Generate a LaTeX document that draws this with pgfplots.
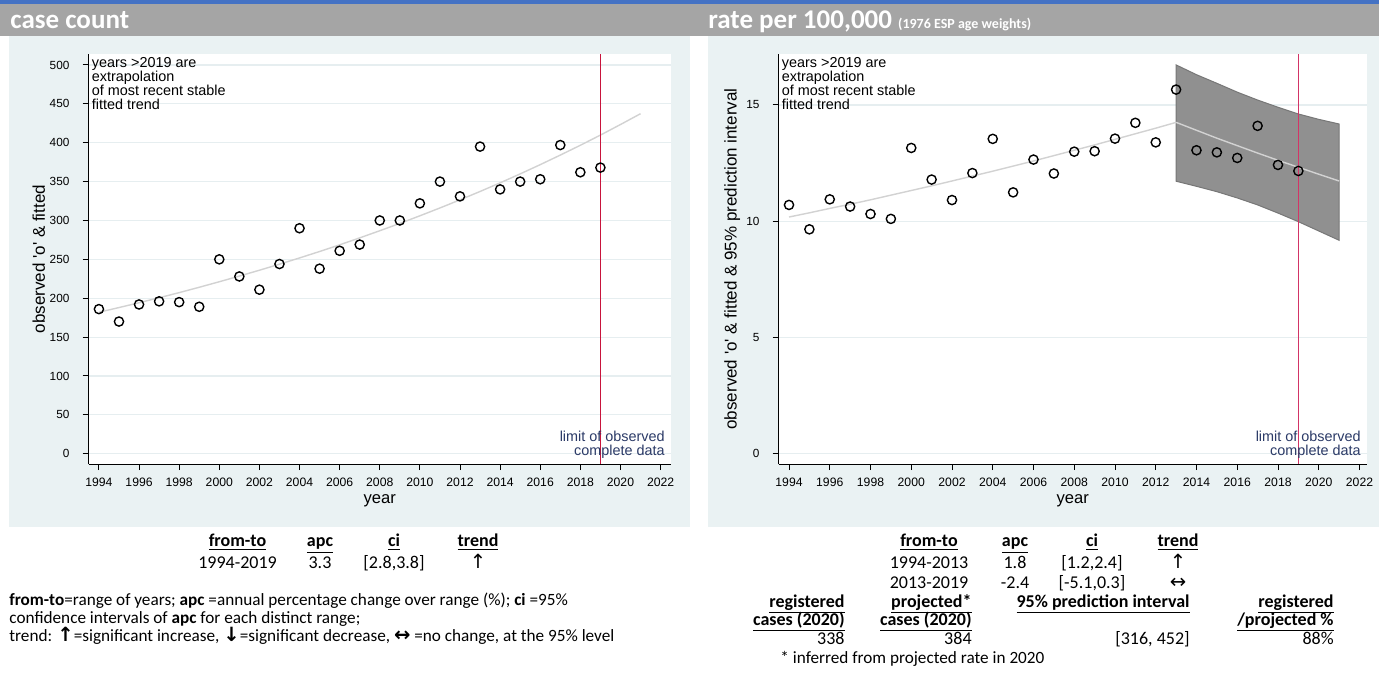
\documentclass[border=0pt]{standalone}
\usepackage{pgfplots}
\pgfplotsset{compat=1.18}
\usepackage{fontspec}
\setmainfont{Carlito}
\newfontfamily\arial{Liberation Sans}
\newfontfamily\dejavu{DejaVu Sans}

\definecolor{bandblue}{HTML}{4472C4}
\definecolor{hdrgrey}{HTML}{A5A5A5}
\definecolor{panelbg}{HTML}{EAF2F3}
\definecolor{gridc}{HTML}{E6EEF0}
\definecolor{fitc}{HTML}{D2D2D2}
\definecolor{pibg}{HTML}{909090}
\definecolor{piedge}{HTML}{777777}
\definecolor{limred}{HTML}{C8143C}
\definecolor{limpink}{HTML}{D33466}
\definecolor{limtxt}{HTML}{2B3A67}

\newcommand{\tabfont}{\fontsize{9}{10}\selectfont}
\newcommand{\notefont}{\fontsize{8.6}{10}\selectfont}
\newcommand{\arr}[1]{{\dejavu\fontsize{9.8}{10}\selectfont #1}}
\newcommand{\barr}[1]{{\dejavu\bfseries\fontsize{9.8}{10}\selectfont #1}}

\tikzset{note/.style={inner sep=0, font=\arial\fontsize{7.2}{7}\selectfont}}

\pgfplotsset{
  panel/.style={
    scale only axis, anchor=south west,
    height=205pt,
    axis lines*=left,
    axis line style={black, line width=0.5pt},
    axis background/.style={fill=white},
    tick align=outside,
    major tick length=3pt,
    tick style={black, line width=0.5pt},
    ymajorgrids,
    major grid style={gridc, line width=0.6pt},
    xtick={1994,1996,...,2022},
    xticklabels={1994,1996,1998,2000,2002,2004,2006,2008,2010,2012,2014,2016,2018,2020,2022},
    xticklabel style={font=\arial\fontsize{6.1}{7}\selectfont, yshift=-0.5pt},
    yticklabel style={font=\arial\fontsize{5.9}{7}\selectfont, xshift=-3pt},
    clip mode=individual,
  },
  obs/.style={only marks, mark=o, mark size=2.3pt, mark options={black, line width=0.7pt}},
  fit/.style={no marks, fitc, line width=0.7pt},
}

\begin{document}
\begin{tikzpicture}
\useasboundingbox (0,0) rectangle (689.5pt,343pt);

% page furniture, drawn in pixel units (y downwards)
\begin{scope}[x=0.5pt, y=-0.5pt, shift={(0,343pt)}]
  \fill[white] (0,0) rectangle (1379,686);
  \fill[bandblue] (0,0) rectangle (1379,4);
  \fill[hdrgrey] (0,4) rectangle (1379,36);
  \fill[panelbg] (9,36) rectangle (690,527);
  \fill[panelbg] (708,36) rectangle (1379,527);

  \node[anchor=base west, inner sep=0, text=white, font=\bfseries\fontsize{13.5}{13}\selectfont] at (10,29) {case count};
  \node[anchor=base west, inner sep=0, text=white, font=\bfseries\fontsize{13.5}{13}\selectfont] at (708,29)
    {rate per 100,000 {\fontsize{7}{7}\selectfont(1976 ESP age weights)}};

  \begin{scope}[every node/.style={inner sep=0, font=\tabfont}]
    % left table
    \node[anchor=base] at (237.5,546.5) {\underline{\textbf{from-to}}};
    \node[anchor=base] at (320,546.5) {\underline{\textbf{apc}}};
    \node[anchor=base] at (394,546.5) {\underline{\textbf{ci}}};
    \node[anchor=base] at (478,546.5) {\underline{\textbf{trend}}};
    \node[anchor=base] at (237.5,568) {1994-2019};
    \node[anchor=base] at (320,568) {3.3};
    \node[anchor=base] at (394,568) {[2.8,3.8]};
    \node[anchor=base] at (478,568) {\arr{↑}};

    \node[anchor=base west, font=\notefont] at (9,605) {\textbf{from-to}=range of years; \textbf{apc} =annual percentage change over range (\%); \textbf{ci} =95\%};
    \node[anchor=base west, font=\notefont] at (9,623) {confidence intervals of \textbf{apc} for each distinct range;};
    \node[anchor=base west, font=\notefont] at (9,641) {trend: \barr{↑}=significant increase, \barr{↓}=significant decrease, \barr{↔} =no change, at the 95\% level};

    % right table
    \node[anchor=base] at (929,546.5) {\underline{\textbf{from-to}}};
    \node[anchor=base] at (1015,546.5) {\underline{\textbf{apc}}};
    \node[anchor=base] at (1092,546.5) {\underline{\textbf{ci}}};
    \node[anchor=base] at (1178,546.5) {\underline{\textbf{trend}}};
    \node[anchor=base] at (929,568) {1994-2013};
    \node[anchor=base] at (1015,568) {1.8};
    \node[anchor=base] at (1092,568) {[1.2,2.4]};
    \node[anchor=base] at (1178,568) {\arr{↑}};
    \node[anchor=base] at (929,588) {2013-2019};
    \node[anchor=base] at (1015,588) {-2.4};
    \node[anchor=base] at (1092,588) {[-5.1,0.3]};
    \node[anchor=base] at (1178,588) {\arr{↔}};

    \node[anchor=base east] at (845,607) {\underline{\textbf{registered}}};
    \node[anchor=base east] at (972,607) {\underline{\textbf{projected*}}};
    \node[anchor=base east] at (1190,607) {\underline{\textbf{95\% prediction interval}}};
    \node[anchor=base east] at (1334,607) {\underline{\textbf{registered}}};
    \node[anchor=base east] at (845,625) {\underline{\textbf{cases (2020)}}};
    \node[anchor=base east] at (972,625) {\underline{\textbf{cases (2020)}}};
    \node[anchor=base east] at (1334,625) {\underline{\textbf{/projected \%}}};
    \node[anchor=base east] at (845,644) {338};
    \node[anchor=base east] at (972,644) {384};
    \node[anchor=base east] at (1190,644) {[316, 452]};
    \node[anchor=base east] at (1334,644) {88\%};
    \node[anchor=base west, font=\notefont] at (780,663) {* inferred from projected rate in 2020};
  \end{scope}
\end{scope}

% ---------------- left panel: case count ----------------
\begin{axis}[panel,
  at={(44.25pt,111pt)}, width=291.25pt,
  xmin=1993.48, xmax=2022.52, ymin=-13.2, ymax=514.1,
  ytick={0,50,...,500},
  yticklabels={0,50,100,150,200,250,300,350,400,450,500},
]
\addplot[fit] coordinates {
(1994,182.0) (1995,188.0) (1996,194.2) (1997,200.6) (1998,207.2) (1999,214.1)
(2000,221.2) (2001,228.5) (2002,236.0) (2003,243.8) (2004,251.8) (2005,260.1)
(2006,268.7) (2007,277.6) (2008,286.8) (2009,296.2) (2010,306.0) (2011,316.1)
(2012,326.5) (2013,337.3) (2014,348.4) (2015,359.9) (2016,371.8) (2017,384.1)
(2018,396.7) (2019,409.8) (2020,423.4) (2021,437.3)};
\addplot[no marks, limred, line width=0.8pt] coordinates {(2019,-13.2) (2019,514.1)};
\addplot[obs] coordinates {
(1994,186) (1995,170) (1996,192) (1997,196) (1998,195) (1999,189)
(2000,250) (2001,228) (2002,211) (2003,244) (2004,290) (2005,238)
(2006,261) (2007,269) (2008,300) (2009,300) (2010,322) (2011,350)
(2012,331) (2013,395) (2014,340) (2015,350) (2016,353) (2017,397)
(2018,362) (2019,368)};
\node[note, anchor=north west, align=left] at ([xshift=1.5pt, yshift=-1.5pt]rel axis cs:0,1)
  {years >2019 are\\extrapolation\\of most recent stable\\fitted trend};
\node[note, anchor=south east, align=right, text=limtxt] at ([xshift=-3pt, yshift=2.5pt]rel axis cs:1,0)
  {limit of observed\\complete data};
\node[rotate=90, anchor=south, inner sep=0, font=\arial\fontsize{8.5}{9}\selectfont]
  at ([xshift=-21.5pt]rel axis cs:0,0.5) {observed 'o' \& fitted};
\node[anchor=base, inner sep=0, font=\arial\fontsize{8.3}{9}\selectfont]
  at ([yshift=-19.5pt]rel axis cs:0.5,0) {year};
\end{axis}

% ---------------- right panel: rate ----------------
\begin{axis}[panel,
  at={(389.25pt,111pt)}, width=294.25pt,
  xmin=1993.485, xmax=2022.37, ymin=-0.44, ymax=17.19,
  ytick={0,5,10,15},
  yticklabels={0,5,10,15},
]
\addplot[fill=pibg, draw=piedge, line width=0.5pt] coordinates {
(2013,16.72) (2014,16.30) (2015,15.93) (2016,15.55) (2017,15.21) (2018,14.90)
(2019,14.61) (2020,14.38) (2021,14.18)
(2021,9.18) (2020,9.58) (2019,9.98) (2018,10.35) (2017,10.70) (2016,11.00)
(2015,11.27) (2014,11.50) (2013,11.72)} -- cycle;
\addplot[fit] coordinates {
(1994,10.18) (1995,10.36) (1996,10.55) (1997,10.73) (1998,10.92) (1999,11.12)
(2000,11.32) (2001,11.52) (2002,11.73) (2003,11.94) (2004,12.15) (2005,12.37)
(2006,12.59) (2007,12.82) (2008,13.05) (2009,13.28) (2010,13.52) (2011,13.76)
(2012,14.00) (2013,14.25)};
\addplot[fit] coordinates {
(2013,14.25) (2014,13.91) (2015,13.57) (2016,13.25) (2017,12.93) (2018,12.62)
(2019,12.32) (2020,12.02) (2021,11.73)};
\addplot[no marks, limpink, line width=0.8pt] coordinates {(2019,-0.44) (2019,17.19)};
\addplot[obs] coordinates {
(1994,10.70) (1995,9.65) (1996,10.94) (1997,10.63) (1998,10.31) (1999,10.10)
(2000,13.15) (2001,11.79) (2002,10.91) (2003,12.07) (2004,13.54) (2005,11.24)
(2006,12.65) (2007,12.05) (2008,12.99) (2009,13.01) (2010,13.55) (2011,14.23)
(2012,13.39) (2013,15.66) (2014,13.05) (2015,12.96) (2016,12.72) (2017,14.10)
(2018,12.42) (2019,12.16)};
\node[note, anchor=north west, align=left] at ([xshift=1.5pt, yshift=-1.5pt]rel axis cs:0,1)
  {years >2019 are\\extrapolation\\of most recent stable\\fitted trend};
\node[note, anchor=south east, align=right, text=limtxt] at ([xshift=-3pt, yshift=2.5pt]rel axis cs:1,0)
  {limit of observed\\complete data};
\node[rotate=90, anchor=south, inner sep=0, font=\arial\fontsize{8.5}{9}\selectfont]
  at ([xshift=-19pt]rel axis cs:0,0.5) {observed 'o' \& fitted \& 95\% prediction interval};
\node[anchor=base, inner sep=0, font=\arial\fontsize{8.3}{9}\selectfont]
  at ([yshift=-19.5pt]rel axis cs:0.5,0) {year};
\end{axis}
\end{tikzpicture}
\end{document}
